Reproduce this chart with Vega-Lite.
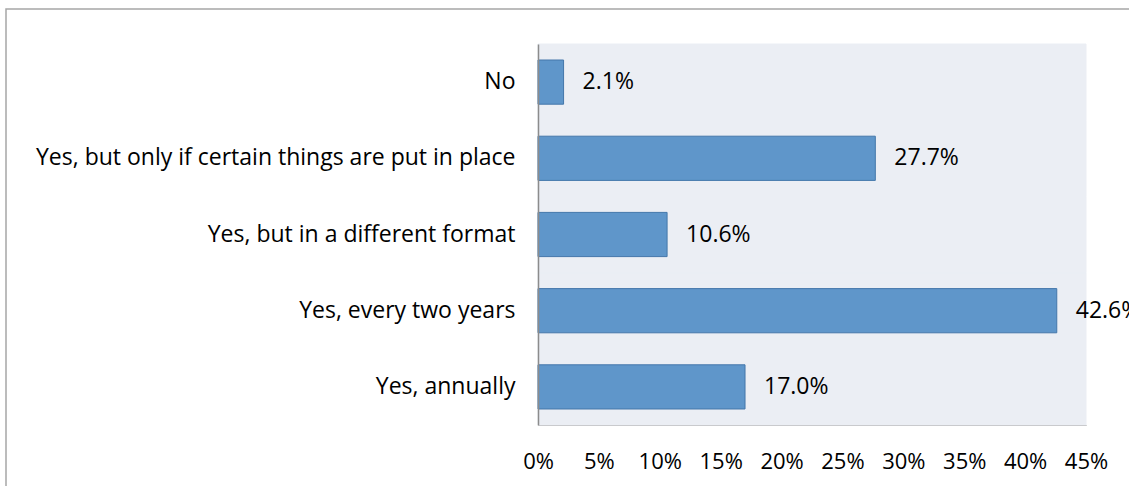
{
  "$schema": "https://vega.github.io/schema/vega-lite/v6.json",
  "width": 1130,
  "height": 480,
  "autosize": {"type": "none"},
  "padding": {"left": 6, "top": 9, "right": 0, "bottom": 0},
  "background": "white",
  "config": {
    "view": {"stroke": "#A6A6A6", "strokeWidth": 1.5, "fill": "white"},
    "font": "Open Sans"
  },
  "data": {
    "values": [
      {"answer": "No", "pct": 0.021},
      {"answer": "Yes, but only if certain things are put in place", "pct": 0.277},
      {"answer": "Yes, but in a different format", "pct": 0.106},
      {"answer": "Yes, every two years", "pct": 0.426},
      {"answer": "Yes, annually", "pct": 0.170}
    ]
  },
  "encoding": {
    "y": {
      "field": "answer",
      "type": "nominal",
      "sort": null,
      "scale": {"range": [35, 416], "paddingInner": 0, "paddingOuter": 0},
      "axis": {
        "orient": "left",
        "offset": -532,
        "title": null,
        "ticks": false,
        "labelPadding": 23,
        "labelFontSize": 23,
        "labelFont": "Open Sans",
        "labelColor": "#000000",
        "labelLimit": 0,
        "domainColor": "#8C8C8C",
        "domainWidth": 1.5,
        "grid": false
      }
    }
  },
  "layer": [
    {
      "mark": {"type": "rect", "fill": "#EBEEF4", "stroke": "#EBEEF4", "strokeWidth": 1},
      "encoding": {
        "x": {
          "datum": 0,
          "type": "quantitative",
          "scale": {"domain": [0, 0.45], "range": [532, 1080], "nice": false, "zero": false},
          "axis": {
            "orient": "bottom",
            "offset": -64,
            "title": null,
            "values": [0, 0.05, 0.1, 0.15, 0.2, 0.25, 0.3, 0.35, 0.4, 0.45],
            "format": ".0%",
            "ticks": false,
            "grid": false,
            "labelPadding": 26,
            "labelFontSize": 22,
            "labelFont": "Open Sans",
            "labelColor": "#000000",
            "labelFlush": false,
            "labelOverlap": false,
            "domainColor": "#A6A6A6",
            "domainWidth": 1
          }
        },
        "x2": {"datum": 0.45}
      }
    },
    {
      "mark": {"type": "bar", "fill": "#5F96CA", "stroke": "#4477AA", "strokeWidth": 1, "height": {"band": 0.58}},
      "encoding": {
        "x": {"field": "pct", "type": "quantitative"}
      }
    },
    {
      "mark": {"type": "text", "align": "left", "baseline": "middle", "dx": 19, "fontSize": 23, "font": "Open Sans", "color": "#000000"},
      "encoding": {
        "x": {"field": "pct", "type": "quantitative"},
        "text": {"field": "pct", "type": "quantitative", "format": ".1%"}
      }
    }
  ]
}
